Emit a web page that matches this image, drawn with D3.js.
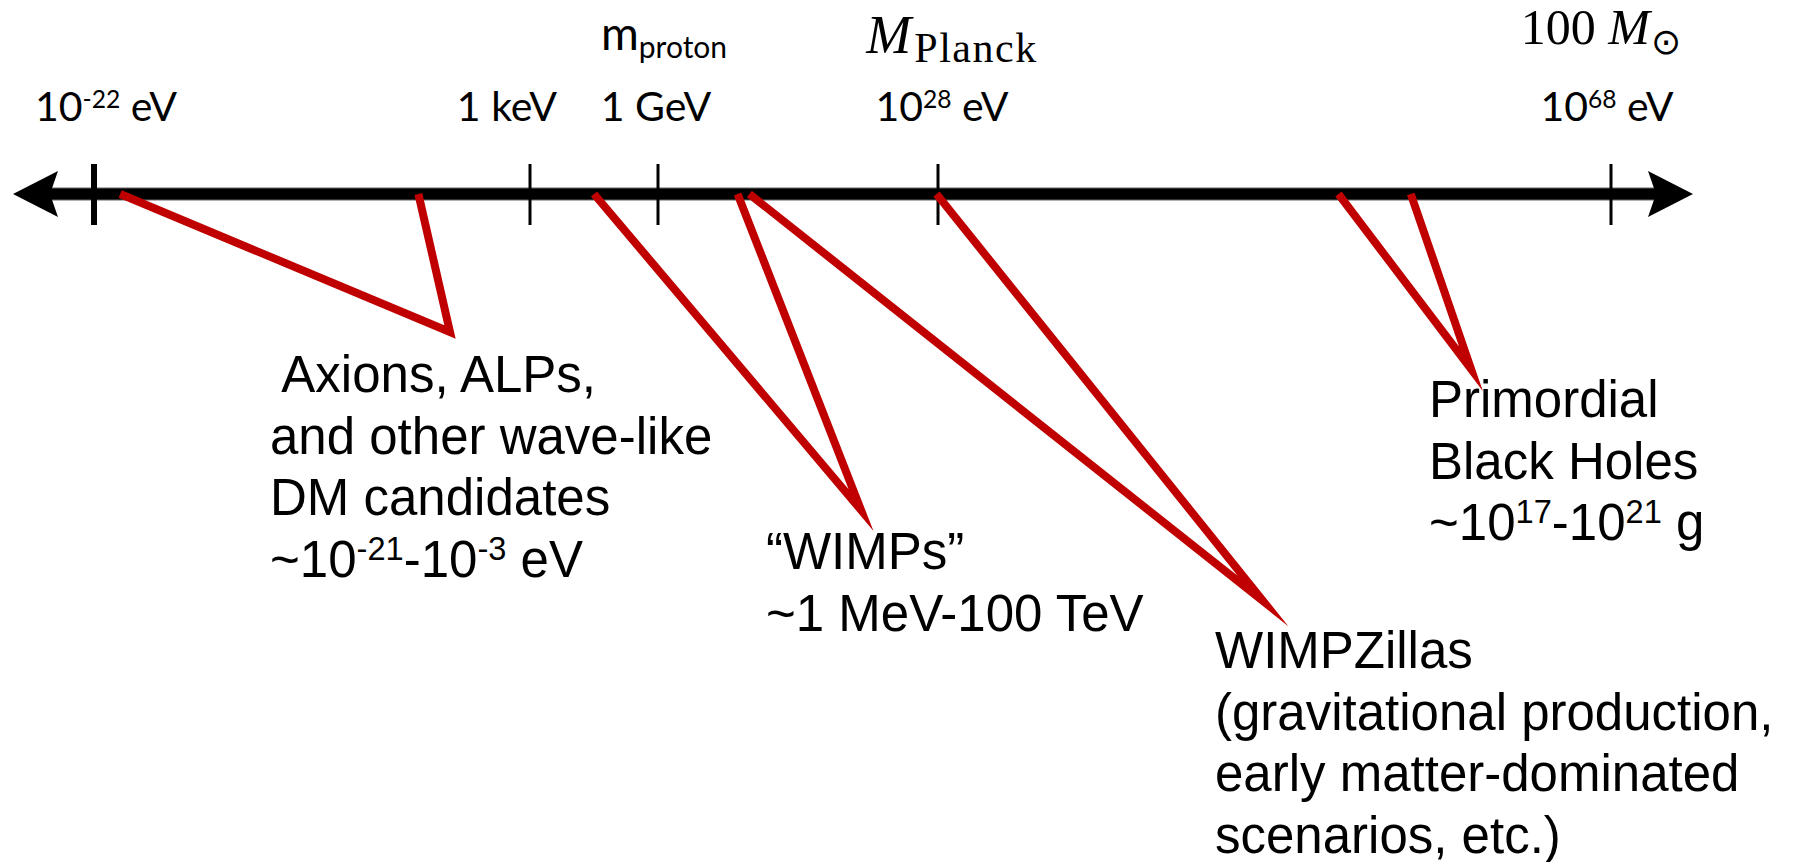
<!DOCTYPE html>
<html>
<head>
<meta charset="utf-8">
<script src="https://cdn.jsdelivr.net/npm/d3@7"></script>
<style>
  body { margin: 0; background: #fff; }
  svg { display: block; }
  text { white-space: pre; }
</style>
</head>
<body>
<svg width="1796" height="862"></svg>
<script>
// tick marks on the mass axis, as log10(mass / eV)
const tickExps = [-22, 3, 9, 28, 68];
const tickLabels = ["10^{-22} eV", "1 keV", "1 GeV", "10^{28} eV", "10^{68} eV"];

// labels over some of the ticks
const markExps = [9, 28, 68];
const markNames = ["proton", "Planck", "⊙"];

// dark matter candidates, range as log10(mass / eV)
const candidates = ["Axions", "WIMPs", "WIMPZillas", "PBH"];
const rangeLo = [-20.5, 6.0, 15.2, 51.8];
const rangeHi = [-3.4, 14.4, 27.9, 56.1];
const candidateText = [
  [" Axions, ALPs,", "and other wave-like", "DM candidates", "~10^{-21}-10^{-3} eV"],
  ["“WIMPs”", "~1 MeV-100 TeV"],
  ["WIMPZillas", "(gravitational production,", "early matter-dominated", "scenarios, etc.)"],
  ["Primordial", "Black Holes", "~10^{17}-10^{21} g"],
];

//////////// LAYOUT ////////////
const svg = d3.select("svg");
const AXIS_Y = 194;
const RED = "#c00000";
const SANS = "'Liberation Sans', Arial, sans-serif";
const TICK_FONT = "Lato, 'Open Sans', sans-serif";
const SERIF = "'Liberation Serif', 'Times New Roman', serif";

// the axis is schematic, so the decades are not evenly spaced
const x = d3.scaleLinear()
  .domain(tickExps)
  .range([94, 530, 658, 938, 1611]);

const tickLabelDx = [12, -23, -2, 4, -4];
const pointerAt = [[450, 332], [861, 510], [1263, 601], [1471, 369]];
const textAt = [[270, 392], [766, 569], [1215, 668], [1429, 417]];
const LINE_GAP = 61.5;

// write a string with ^{...} superscripts into a text element
function rich(text, str, size, supScale, raise) {
  let shifted = false;
  str.split(/(\^\{[^}]*\})/).forEach((p) => {
    if (!p) return;
    const sup = p.startsWith("^{");
    const s = text.append("tspan").text(sup ? p.slice(2, -1) : p);
    if (sup) {
      s.attr("font-size", size * supScale).attr("dy", -raise);
      shifted = true;
    } else if (shifted) {
      s.attr("dy", raise);
      shifted = false;
    }
  });
}

//////////// AXIS ////////////
const axisG = svg.append("g");

axisG.append("line")
  .attr("x1", 50)
  .attr("x2", 1656)
  .attr("y1", AXIS_Y)
  .attr("y2", AXIS_Y)
  .attr("stroke", "#666")
  .attr("stroke-width", 13);

axisG.append("line")
  .attr("x1", 50)
  .attr("x2", 1656)
  .attr("y1", AXIS_Y)
  .attr("y2", AXIS_Y)
  .attr("stroke", "#000")
  .attr("stroke-width", 11);

// arrow heads, tip then back corners with a notch
const arrow = (tip, dir) =>
  `M${tip},${AXIS_Y} L${tip + dir * 45},${AXIS_Y - 23} L${tip + dir * 37},${AXIS_Y} L${tip + dir * 45},${AXIS_Y + 23} Z`;
axisG.append("path").attr("d", arrow(13, 1)).attr("fill", "#000");
axisG.append("path").attr("d", arrow(1693, -1)).attr("fill", "#000");

axisG.selectAll(".tick")
  .data(tickExps)
  .enter()
  .append("line")
  .attr("class", "tick")
  .attr("x1", (d) => x(d))
  .attr("x2", (d) => x(d))
  .attr("y1", AXIS_Y - 30)
  .attr("y2", AXIS_Y + 31)
  .attr("stroke", "#000")
  .attr("stroke-width", (d, i) => (i === 0 ? 6 : 3));

axisG.selectAll(".tickLabel")
  .data(tickLabels)
  .enter()
  .append("text")
  .attr("class", "tickLabel")
  .attr("x", (d, i) => x(tickExps[i]) + tickLabelDx[i])
  .attr("y", 121)
  .attr("text-anchor", "middle")
  .attr("font-family", TICK_FONT)
  .attr("font-size", 41)
  .attr("fill", "#000")
  .each(function (d) {
    rich(d3.select(this), d, 41, 0.6, 13);
  });

//////////// MARKS OVER TICKS ////////////
// m_proton
const mp = svg.append("text")
  .attr("x", x(markExps[0]) + 6)
  .attr("y", 50)
  .attr("text-anchor", "middle")
  .attr("font-family", TICK_FONT)
  .attr("font-size", 46);
mp.append("tspan").text("m");
mp.append("tspan").attr("font-size", 30).attr("dy", 8).text(markNames[0]);

// M_Planck
const mpl = svg.append("text")
  .attr("x", x(markExps[1]) + 14)
  .attr("y", 53)
  .attr("text-anchor", "middle")
  .attr("font-family", SERIF);
mpl.append("tspan").attr("font-size", 54).attr("font-style", "italic").text("M");
mpl.append("tspan")
  .attr("font-size", 42)
  .attr("dx", 3)
  .attr("dy", 9)
  .attr("letter-spacing", 1.5)
  .text(markNames[1]);

// 100 M_sun
const msun = svg.append("text")
  .attr("x", x(markExps[2]) - 10)
  .attr("y", 44)
  .attr("text-anchor", "middle")
  .attr("font-family", SERIF)
  .attr("font-size", 50);
msun.append("tspan").text("100 ");
msun.append("tspan").attr("font-style", "italic").text("M");
msun.append("tspan")
  .attr("font-family", "'DejaVu Sans', sans-serif")
  .attr("font-size", 36)
  .attr("dx", 1)
  .attr("dy", 10)
  .text(markNames[2]);

//////////// CANDIDATES ////////////
const line = d3.line();

const cand = svg.selectAll(".candidate")
  .data(candidates)
  .enter()
  .append("g")
  .attr("class", "candidate");

cand.append("path")
  .attr("d", (d, i) =>
    line([
      [x(rangeLo[i]), AXIS_Y],
      pointerAt[i],
      [x(rangeHi[i]), AXIS_Y],
    ]),
  )
  .attr("fill", "none")
  .attr("stroke", RED)
  .attr("stroke-width", 8)
  .attr("stroke-linejoin", "miter")
  .attr("stroke-miterlimit", 20)
  .attr("stroke-linecap", "butt");

cand.each(function (d, i) {
  const g = d3.select(this);
  candidateText[i].forEach((str, j) => {
    const t = g.append("text")
      .attr("x", textAt[i][0])
      .attr("y", textAt[i][1] + j * LINE_GAP)
      .attr("font-family", SANS)
      .attr("font-size", 51)
      .attr("fill", "#000");
    rich(t, str, 51, 0.64, 17);
  });
});
</script>
</body>
</html>
